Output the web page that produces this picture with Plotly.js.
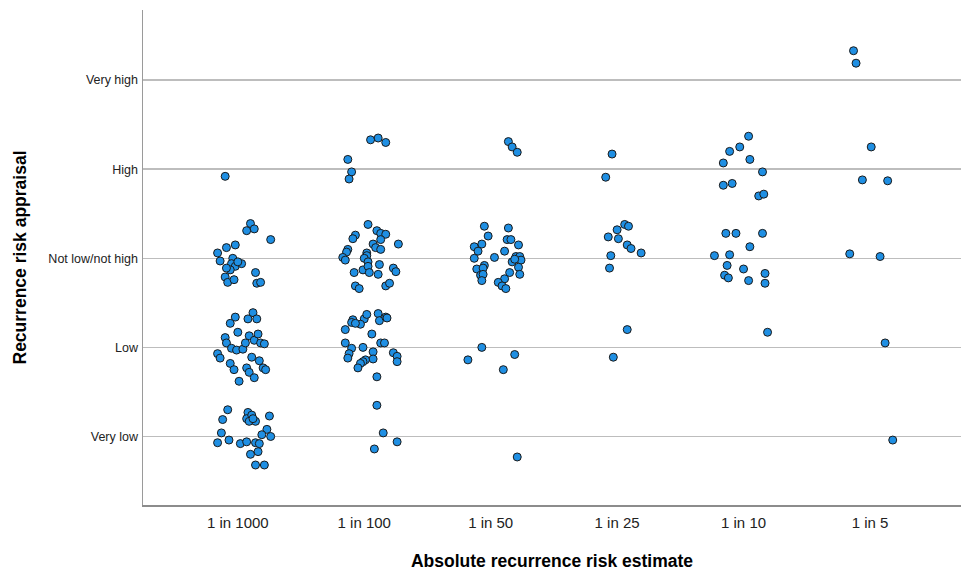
<!DOCTYPE html>
<html>
<head>
<meta charset="utf-8">
<script src="https://cdn.plot.ly/plotly-3.0.1.min.js"></script>
<style>html,body{margin:0;padding:0;background:#fff;}#chart{width:961px;height:571px;}</style>
</head>
<body>
<div id="chart"></div>
<script>
// Categories (x) and appraisal levels (y)
const categories = ["1 in 1000", "1 in 100", "1 in 50", "1 in 25", "1 in 10", "1 in 5"];
const appraisalLabels = ["Very low", "Low", "Not low/not high", "High", "Very high"];
const appraisalValues = [1, 2, 3, 4, 5];

// Jittered points per category: horizontal jitter (category units) and jittered appraisal value
const jit1000 = [-0.10, 0.10,0.07,0.13,0.26,-0.02,-0.09,-0.16,-0.14,-0.04,-0.05,-0.02,0.03,-0.06,-0.10,-0.08,-0.03,0.14,0.15,0.18,0.00,-0.09,
 -0.02,-0.06,0.08,0.12,0.15,0.00,-0.10,-0.09,-0.05,-0.01,0.04,0.06,0.09,0.13,0.16,0.18,0.21,-0.16,-0.14,-0.06,-0.03,0.11,0.17,0.20,0.22,0.07,0.09,0.13,0.01,
 -0.08,-0.12,0.08,0.07,0.11,0.09,0.14,0.12,0.25,-0.13,-0.16,-0.07,0.02,0.07,0.14,0.17,0.23,0.19,0.26,0.10,0.16,0.14,0.21];
const app1000 = [3.92, 3.39,3.31,3.33,3.21,3.15,3.12,3.06,2.97,3.00,2.94,2.91,2.94,2.87,2.79,2.73,2.76,2.84,2.72,2.73,2.96,2.89,
 2.34,2.27,2.32,2.39,2.32,2.17,2.11,2.05,1.99,1.97,1.98,2.05,2.13,2.08,2.15,2.05,2.04,1.93,1.88,1.82,1.75,1.89,1.85,1.77,1.75,1.77,1.72,1.66,1.62,
 1.30,1.19,1.27,1.20,1.24,1.17,1.17,1.20,1.23,1.04,0.93,0.96,0.92,0.94,0.93,0.92,1.08,1.02,1.00,0.80,0.83,0.68,0.68];

const jit100 = [0.05,0.11,0.17,-0.13,-0.10,-0.12,
 0.03,0.10,0.13,0.17,0.13,-0.07,-0.09,0.27,0.07,0.09,0.13,-0.13,-0.14,-0.17,-0.15,0.02,0.02,0.00,0.03,-0.01,0.03,0.04,0.11,0.12,-0.08,0.23,0.25,-0.07,-0.04,0.17,0.20,
 -0.09,0.00,0.02,0.11,0.12,0.17,0.18,-0.10,-0.03,-0.07,-0.15,0.06,0.13,0.16,-0.15,-0.10,-0.01,-0.12,-0.13,0.07,0.07,0.01,-0.01,-0.03,-0.05,0.23,0.26,0.26,0.10,
 0.10,0.15,0.26,0.08];
const app100 = [4.33,4.35,4.30,4.11,3.97,3.89,
 3.38,3.31,3.28,3.27,3.21,3.26,3.22,3.16,3.16,3.12,3.10,3.10,3.07,3.01,2.98,3.06,3.03,3.00,2.96,2.87,2.91,2.84,2.82,2.93,2.84,2.89,2.85,2.69,2.66,2.69,2.72,
 2.31,2.32,2.37,2.38,2.30,2.34,2.33,2.28,2.26,2.27,2.20,2.15,2.05,2.05,2.05,1.99,2.00,1.93,1.88,1.95,1.87,1.86,1.84,1.82,1.77,1.94,1.90,1.84,1.67,
 1.35,1.04,0.94,0.86];

const jit50 = [0.14,0.17,0.21,
 -0.05,0.14,-0.02,0.13,0.16,-0.07,-0.13,-0.10,0.22,0.11,0.03,-0.13,0.20,0.23,0.17,0.24,0.19,-0.11,-0.05,-0.06,-0.08,-0.06,-0.07,0.22,0.23,0.15,0.11,0.06,0.09,0.12,
 -0.07,-0.18,0.19,0.10,
 0.21];
const app50 = [4.31,4.25,4.19,
 3.36,3.34,3.25,3.21,3.21,3.16,3.13,3.08,3.15,3.08,3.01,3.00,3.02,3.02,2.96,2.98,2.99,2.88,2.92,2.89,2.81,2.82,2.75,2.90,2.82,2.84,2.77,2.73,2.69,2.66,
 2.00,1.86,1.92,1.75,
 0.77];

const jit25 = [-0.04,-0.09,0.06,0.09,0.00,-0.07,0.01,0.08,0.11,0.19,-0.05,-0.06,0.08,-0.03];
const app25 = [4.17,3.91,3.38,3.36,3.32,3.24,3.22,3.15,3.11,3.06,3.03,2.89,2.20,1.89];

const jit10 = [0.04,-0.03,-0.11,0.05,-0.16,0.15,-0.16,-0.09,0.12,0.16,-0.14,-0.06,0.15,0.05,-0.23,-0.11,-0.13,0.00,-0.15,-0.12,0.04,0.17,0.17,0.19];
const app10 = [4.37,4.25,4.20,4.11,4.07,3.97,3.82,3.84,3.70,3.72,3.28,3.28,3.28,3.13,3.03,3.04,2.92,2.88,2.81,2.78,2.75,2.83,2.72,2.17];

const jit5 = [-0.13,-0.11,0.01,-0.06,0.14,-0.16,0.08,0.12,0.18];
const app5 = [5.33,5.19,4.25,3.88,3.87,3.05,3.02,2.05,0.96];

const jitters = [jit1000, jit100, jit50, jit25, jit10, jit5];
const appraisals = [app1000, app100, app50, app25, app10, app5];

const xs = [], ys = [];
jitters.forEach((jl, i) => {
  jl.forEach((j, k) => { xs.push(i + j); ys.push(appraisals[i][k]); });
});

const trace = {
  type: "scatter",
  mode: "markers",
  x: xs,
  y: ys,
  marker: {size: 8, color: "#1f8fe3", line: {color: "#1a1a1a", width: 1}},
  hoverinfo: "skip",
  showlegend: false
};

const font = "Liberation Sans, Arial, sans-serif";
const layout = {
  width: 961, height: 571,
  margin: {l: 143, r: 0, t: 10, b: 66, pad: 0},
  paper_bgcolor: "#fff", plot_bgcolor: "#fff",
  font: {family: font, color: "#222"},
  xaxis: {
    range: [-0.75, 5.72],
    tickmode: "array",
    tickvals: categories.map((c, i) => i),
    ticktext: categories,
    showgrid: false, zeroline: false,
    showline: true, linecolor: "#8c8c8c", linewidth: 1.5,
    ticks: "outside", ticklen: 3, tickcolor: "rgba(0,0,0,0)",
    tickfont: {family: font, size: 15, color: "#222"},
    title: {text: "<b>Absolute recurrence risk estimate</b>", font: {family: font, size: 17.5, color: "#000"}, standoff: 28}
  },
  yaxis: {
    range: [0.231, 5.787],
    tickmode: "array",
    tickvals: appraisalValues,
    ticktext: appraisalLabels,
    showgrid: true, gridcolor: "#bdbdbd", gridwidth: 1.5,
    zeroline: false,
    showline: true, linecolor: "#9a9a9a", linewidth: 1.5,
    ticks: "outside", ticklen: 1, tickcolor: "rgba(0,0,0,0)",
    tickfont: {family: font, size: 12.5, color: "#222"},
    title: {text: "<b>Recurrence risk appraisal</b>", font: {family: font, size: 17.5, color: "#000"}, standoff: 17}
  }
};

Plotly.newPlot("chart", [trace], layout, {staticPlot: true, displayModeBar: false});
</script>
</body>
</html>
